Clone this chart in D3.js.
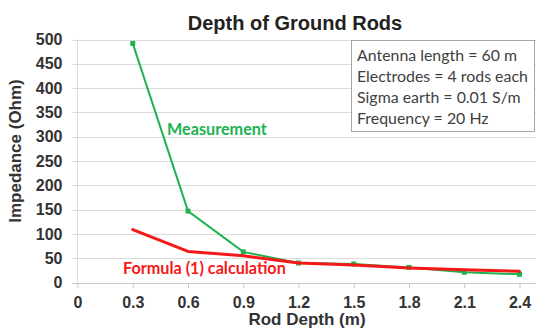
<!DOCTYPE html>
<html>
<head>
<meta charset="utf-8">
<script src="https://cdn.jsdelivr.net/npm/d3@7"></script>
<style>
  body { margin: 0; background: #fff; }
  svg { display: block; }
</style>
</head>
<body>
<div id="chart"></div>
<script>
// rod depth categories (m)
var depths = [0.3, 0.6, 0.9, 1.2, 1.5, 1.8, 2.1, 2.4];
// measured impedance (Ohm)
var measured = [492, 147, 63, 40, 38, 31, 21, 17];
// formula (1) calculation (Ohm)
var formula = [109, 64, 55, 40, 36, 30, 26, 23];

var xTicks = [0, 0.3, 0.6, 0.9, 1.2, 1.5, 1.8, 2.1, 2.4];
var yTicks = [0, 50, 100, 150, 200, 250, 300, 350, 400, 450, 500];
var infoLines = ["Antenna length = 60 m", "Electrodes = 4 rods each", "Sigma earth = 0.01 S/m", "Frequency = 20 Hz"];

var width = 536, height = 330;
var green = "#21b24f", red = "#f51818";

var svg = d3.select("#chart")
  .append("svg")
  .attr("width", width)
  .attr("height", height);

var x = d3.scaleLinear().domain([0, 2.4]).range([77.5, 519.5]);
var y = d3.scaleLinear().domain([0, 500]).range([282.5, 39.5]);

//horizontal gridlines
svg.append("g")
  .selectAll("line")
  .data(yTicks)
  .enter()
  .append("line")
    .attr("x1", 72)
    .attr("x2", width)
    .attr("y1", function (d) { return Math.round(y(d)) + 0.5; })
    .attr("y2", function (d) { return Math.round(y(d)) + 0.5; })
    .attr("stroke", function (d) { return d === 0 ? "#c8c8c8" : "#dcdcdc"; })
    .attr("stroke-width", 1.2);

//vertical axis line
svg.append("line")
  .attr("x1", 77.5).attr("x2", 77.5)
  .attr("y1", y(500)).attr("y2", y(0))
  .attr("stroke", "#dcdcdc");

//y axis
var yAxis = svg.append("g")
  .attr("transform", "translate(77.5,0)")
  .call(d3.axisLeft(y).tickValues(yTicks).tickSize(0).tickPadding(15));
yAxis.select(".domain").remove();
yAxis.selectAll("text")
  .attr("font-family", "'Liberation Sans', Arial, sans-serif")
  .attr("font-size", 16)
  .attr("font-weight", "bold")
  .attr("fill", "#333");

//x axis
var xAxis = svg.append("g")
  .attr("transform", "translate(0," + (Math.round(y(0)) + 0.5) + ")")
  .call(d3.axisBottom(x).tickValues(xTicks).tickSize(5).tickPadding(8)
    .tickFormat(function (d) { return d === 0 ? "0" : d3.format(".1f")(d); }));
xAxis.select(".domain").remove();
xAxis.selectAll("line").attr("stroke", "#c8c8c8");
xAxis.selectAll("text")
  .attr("font-family", "'Liberation Sans', Arial, sans-serif")
  .attr("font-size", 16)
  .attr("font-weight", "bold")
  .attr("fill", "#333");

//titles
svg.append("text")
  .attr("x", 295).attr("y", 30)
  .attr("text-anchor", "middle")
  .attr("font-family", "'Liberation Sans', Arial, sans-serif")
  .attr("font-size", 20)
  .attr("font-weight", "bold")
  .attr("fill", "#222")
  .text("Depth of Ground Rods");

svg.append("text")
  .attr("x", 307).attr("y", 325)
  .attr("text-anchor", "middle")
  .attr("font-family", "'Liberation Sans', Arial, sans-serif")
  .attr("font-size", 17)
  .attr("font-weight", "bold")
  .attr("fill", "#333")
  .text("Rod Depth (m)");

svg.append("text")
  .attr("transform", "translate(21,151) rotate(-90)")
  .attr("text-anchor", "middle")
  .attr("font-family", "'Liberation Sans', Arial, sans-serif")
  .attr("font-size", 17)
  .attr("font-weight", "bold")
  .attr("fill", "#333")
  .text("Impedance (Ohm)");

//lines
var line = d3.line()
  .x(function (d) { return x(d[0]); })
  .y(function (d) { return y(d[1]); });

var measPts = depths.map(function (d, i) { return [d, measured[i]]; });
var formPts = depths.map(function (d, i) { return [d, formula[i]]; });

svg.append("path")
  .attr("d", line(measPts))
  .attr("fill", "none")
  .attr("stroke", green)
  .attr("stroke-width", 2);

svg.append("g")
  .selectAll("rect")
  .data(measPts)
  .enter()
  .append("rect")
    .attr("x", function (d) { return x(d[0]) - 2.5; })
    .attr("y", function (d) { return y(d[1]) - 2.5; })
    .attr("width", 5)
    .attr("height", 5)
    .attr("fill", green);

svg.append("path")
  .attr("d", line(formPts))
  .attr("fill", "none")
  .attr("stroke", red)
  .attr("stroke-width", 3)
  .attr("stroke-linejoin", "round")
  .attr("stroke-linecap", "round");

//series labels
svg.append("text")
  .attr("x", 167).attr("y", 135)
  .attr("font-family", "Lato, 'Open Sans', sans-serif")
  .attr("font-size", 16.2)
  .attr("font-weight", "bold")
  .attr("fill", green)
  .text("Measurement");

svg.append("text")
  .attr("x", 123).attr("y", 274)
  .attr("font-family", "Lato, 'Open Sans', sans-serif")
  .attr("font-size", 16.2)
  .attr("font-weight", "bold")
  .attr("fill", red)
  .text("Formula (1) calculation");

//info box
svg.append("rect")
  .attr("x", 351.5).attr("y", 40.5)
  .attr("width", 183).attr("height", 91)
  .attr("fill", "#fff")
  .attr("stroke", "#a6a6a6");

svg.append("g")
  .selectAll("text")
  .data(infoLines)
  .enter()
  .append("text")
    .attr("x", 357)
    .attr("y", function (d, i) { return 61 + i * 21; })
    .attr("font-family", "Lato, 'Open Sans', sans-serif")
    .attr("font-size", 15.9)
    .attr("fill", "#404040")
    .text(function (d) { return d; });
</script>
</body>
</html>
